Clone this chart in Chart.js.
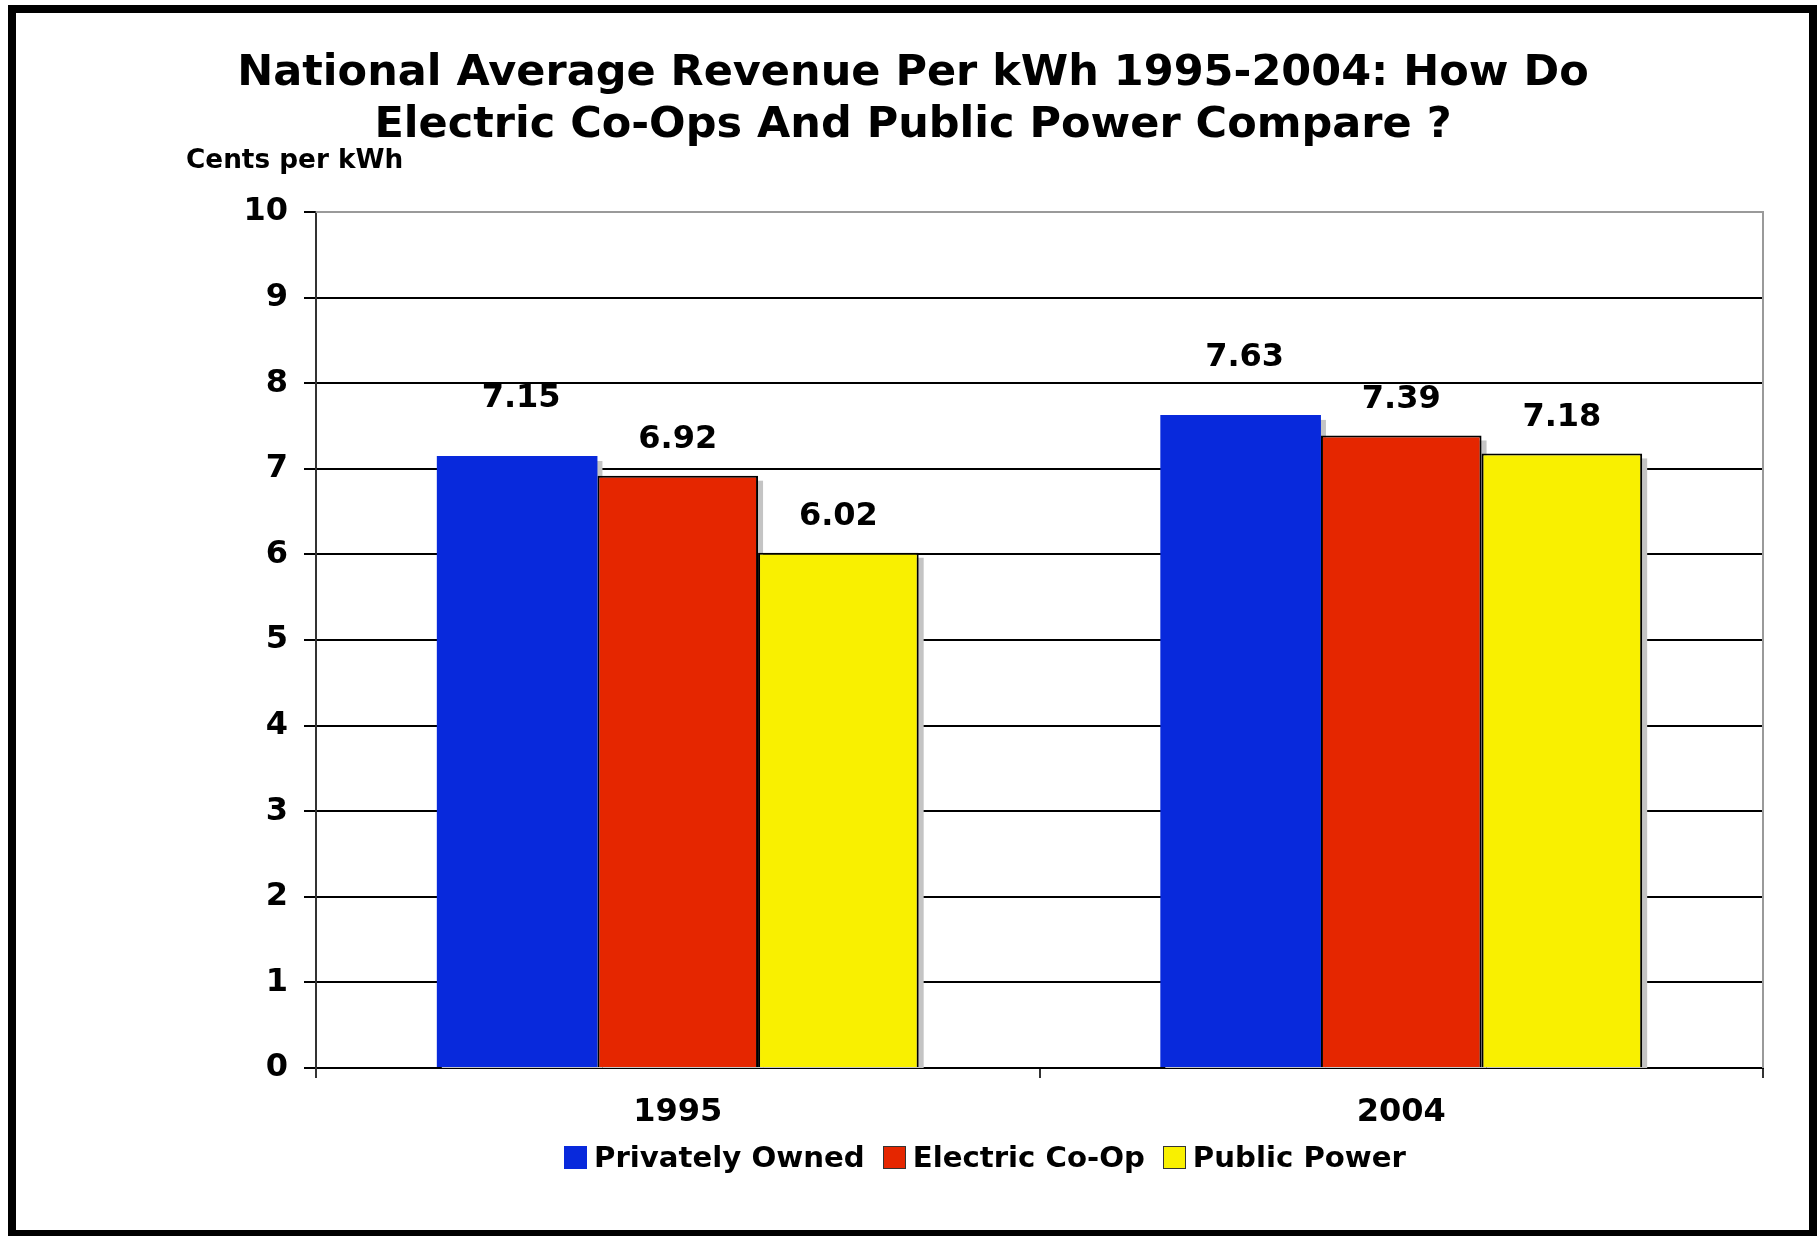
<!DOCTYPE html>
<html>
<head>
<meta charset="utf-8">
<script src="https://cdn.jsdelivr.net/npm/chart.js@4.4.0/dist/chart.umd.min.js"></script>
<style>
body { margin: 0; background: #fff; overflow: hidden; }
#frame { position: absolute; left: 8px; top: 5px; width: 1809px; height: 1233px; border: 8px solid #000; box-sizing: border-box; }
#wrap { position: absolute; left: 0; top: 0; width: 1820px; height: 1236px; }
#legend { position: absolute; left: 564px; top: 1140px; display: flex; align-items: center; font: bold 29.2px 'DejaVu Sans', Verdana, sans-serif; color: #000; white-space: nowrap; }
#legend .item { display: flex; align-items: center; margin-right: 18px; }
#legend .box { width: 23px; height: 23px; margin-right: 7px; box-sizing: border-box; }
</style>
</head>
<body>
<div id="frame"></div>
<div id="wrap"><canvas id="Chart" width="1820" height="1236"></canvas></div>
<div id="legend"></div>
<script>
var years = ['1995', '2004'];
var privatelyOwned = [7.15, 7.63];
var electricCoOp = [6.92, 7.39];
var publicPower = [6.02, 7.18];
var seriesNames = ['Privately Owned', 'Electric Co-Op', 'Public Power'];

var FONT = "'DejaVu Sans', Verdana, sans-serif";

// grey drop shadows, painted under all bars so neighbours cover them
var barShadow = {
    id: 'barShadow',
    beforeDatasetsDraw: function(chart) {
        var c = chart.ctx;
        var a = chart.chartArea;
        c.save();
        c.beginPath();
        c.rect(a.left, a.top, a.right - a.left, a.bottom - a.top);
        c.clip();
        c.fillStyle = '#c4c4c4';
        chart.data.datasets.forEach(function(ds, i) {
            chart.getDatasetMeta(i).data.forEach(function(bar) {
                var p = bar.getProps(['x', 'y', 'base', 'width']);
                c.fillRect(p.x - p.width / 2 + 5, p.y + 5, p.width, p.base - p.y);
            });
        });
        c.restore();
    }
};

// value labels, grey plot frame and the unit text
var extras = {
    id: 'extras',
    afterDatasetsDraw: function(chart) {
        var c = chart.ctx;
        var a = chart.chartArea;
        c.save();
        c.strokeStyle = '#9a9a9a';
        c.lineWidth = 2;
        c.beginPath();
        c.moveTo(a.left, a.top);
        c.lineTo(a.right, a.top);
        c.lineTo(a.right, a.bottom);
        c.stroke();

        c.fillStyle = '#000';
        c.font = 'bold 32px ' + FONT;
        c.textAlign = 'center';
        c.textBaseline = 'middle';
        chart.data.datasets.forEach(function(ds, i) {
            var meta = chart.getDatasetMeta(i);
            meta.data.forEach(function(bar, j) {
                c.fillText(ds.data[j].toFixed(2), bar.x + ds.labelShift, bar.y - ds.labelLift);
            });
        });

        c.font = 'bold 26.3px ' + FONT;
        c.textAlign = 'left';
        c.fillText('Cents per kWh', a.left - 130, a.top - 51);
        c.restore();
    }
};

var ctx = document.getElementById('Chart').getContext('2d');
var myChart = new Chart(ctx, {
    type: 'bar',
    data: {
        labels: years,
        datasets: [{
            label: seriesNames[0],
            data: privatelyOwned,
            backgroundColor: '#0829dc',
            borderWidth: 0,
            labelLift: 57,
            labelShift: 4
        }, {
            label: seriesNames[1],
            data: electricCoOp,
            backgroundColor: '#e52600',
            borderColor: '#000',
            borderWidth: 2,
            labelLift: 36,
            labelShift: 0
        }, {
            label: seriesNames[2],
            data: publicPower,
            backgroundColor: '#f9f000',
            borderColor: '#000',
            borderWidth: 2,
            labelLift: 36,
            labelShift: 0
        }]
    },
    options: {
        responsive: false,
        animation: false,
        devicePixelRatio: 1,
        layout: { padding: { left: 63, right: 57, top: 0, bottom: 98 } },
        datasets: { bar: { categoryPercentage: 0.666, barPercentage: 1.0 } },
        plugins: {
            legend: { display: false },
            tooltip: { enabled: false },
            title: {
                display: true,
                text: ['National Average Revenue Per kWh 1995-2004: How Do', 'Electric Co-Ops And Public Power Compare ?'],
                color: '#000',
                font: { family: FONT, size: 43, weight: 'bold', lineHeight: 1.21 },
                padding: { top: 48, bottom: 60 }
            }
        },
        scales: {
            x: {
                grid: { offset: true, drawOnChartArea: false, tickLength: 10, color: '#333', lineWidth: 2 },
                border: { color: '#000', width: 2 },
                ticks: { color: '#000', padding: 15, font: { family: FONT, size: 32, weight: 'bold' } },
                afterFit: function(s) { s.height = 70; }
            },
            y: {
                min: 0,
                max: 10,
                ticks: { stepSize: 1, color: '#000', padding: 16, font: { family: FONT, size: 32, weight: 'bold' } },
                grid: { color: '#000', lineWidth: 2, tickLength: 12, tickColor: '#000' },
                border: { color: '#333', width: 2 },
                afterFit: function(s) { s.width = 253; }
            }
        }
    },
    plugins: [barShadow, extras]
});

// legend built from the chart's datasets
var lg = document.getElementById('legend');
myChart.data.datasets.forEach(function(ds) {
    var item = document.createElement('div');
    item.className = 'item';
    var box = document.createElement('span');
    box.className = 'box';
    box.style.background = ds.backgroundColor;
    if (ds.borderWidth) box.style.border = '1px solid #333';
    var txt = document.createElement('span');
    txt.textContent = ds.label;
    item.appendChild(box);
    item.appendChild(txt);
    lg.appendChild(item);
});
</script>
</body>
</html>
